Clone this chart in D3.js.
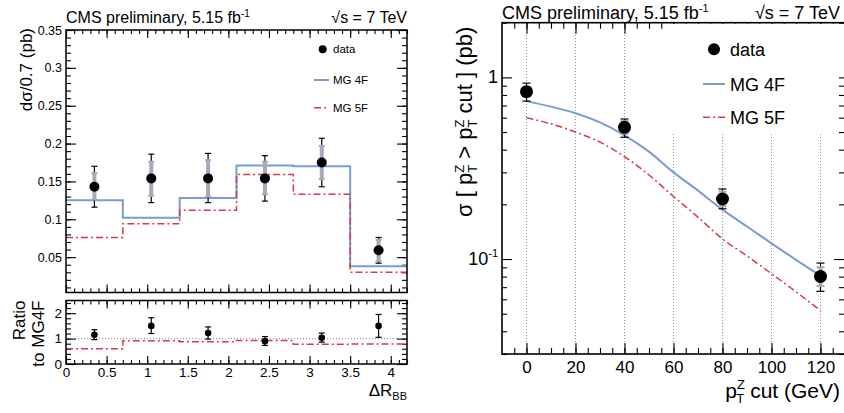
<!DOCTYPE html>
<html>
<head>
<meta charset="utf-8">
<script src="https://cdn.jsdelivr.net/npm/d3@7"></script>
<style>
  body { margin: 0; background: #fff; }
  text { font-family: "Liberation Sans", Arial, Helvetica, sans-serif; fill: #000; }
</style>
</head>
<body>
<svg id="chart" width="844" height="413"></svg>
<script>
// ---- left plot: d sigma / d deltaR(BB) ----
const binEdges = [0, 0.7, 1.4, 2.1, 2.8, 3.5, 4.2];
const mg4f = [0.125, 0.102, 0.128, 0.171, 0.170, 0.038];
const mg5f = [0.076, 0.094, 0.112, 0.159, 0.133, 0.030];
const drCentre = [0.35, 1.05, 1.75, 2.45, 3.15, 3.85];
const drData = [0.143, 0.154, 0.154, 0.154, 0.175, 0.059];
const drTotLo = [0.116, 0.122, 0.122, 0.124, 0.143, 0.042];
const drTotHi = [0.170, 0.186, 0.187, 0.184, 0.207, 0.076];
const drStatLo = [0.126, 0.131, 0.130, 0.133, 0.153, 0.045];
const drStatHi = [0.161, 0.176, 0.178, 0.176, 0.197, 0.073];
// ratio to MG4F
const ratioData = [1.15, 1.50, 1.22, 0.90, 1.03, 1.50];
const ratioLo = [0.96, 1.20, 0.98, 0.73, 0.86, 1.05];
const ratioHi = [1.35, 1.82, 1.46, 1.08, 1.22, 1.95];
const ratio5f = [0.60, 0.92, 0.88, 0.93, 0.78, 0.79];
const drTicks = [0, 0.5, 1, 1.5, 2, 2.5, 3, 3.5, 4];
const dsTicks = [0.05, 0.1, 0.15, 0.2, 0.25, 0.3, 0.35];
const ratioTicks = [0, 1, 2];

// ---- right plot: sigma(pT^Z > cut) ----
const ptCut = [0, 40, 80, 120];
const sigData = [0.834, 0.531, 0.214, 0.0802];
const sigTotLo = [0.740, 0.468, 0.189, 0.0664];
const sigTotHi = [0.930, 0.590, 0.243, 0.0950];
const sigStatLo = [0.790, 0.490, 0.195, 0.0710];
const sigStatHi = [0.885, 0.575, 0.235, 0.0900];
const ptCurve = [0, 10, 20, 30, 40, 50, 60, 70, 80, 90, 100, 110, 120];
const sig4f = [0.74, 0.69, 0.635, 0.565, 0.48, 0.39, 0.30, 0.238, 0.187, 0.151, 0.122, 0.099, 0.081];
const sig5f = [0.60, 0.555, 0.50, 0.44, 0.366, 0.29, 0.221, 0.17, 0.129, 0.104, 0.083, 0.066, 0.052];
const ptTicks = [0, 20, 40, 60, 80, 100, 120];

const blue = "#7b9bd3";
const red = "#cf3d4c";
const statGrey = "#a9a7bd";
const dash5f = "7,3,2,3";

const svg = d3.select("#chart");

// helper: draw ticks of an axis and style them
function drawAxis(g, axis) {
  g.call(axis);
  g.select(".domain").remove();
  g.attr("font-family", null).attr("font-size", null);
  g.selectAll("line").attr("stroke", "#000").attr("stroke-width", 1.1);
  return g;
}

// ================= LEFT TOP PANEL =================
const L = { x0: 66, x1: 407, top: 30, bot: 292.5, rTop: 300.5, rBot: 364 };
const xDr = d3.scaleLinear().domain([0, 4.2]).range([L.x0, L.x1]);
const yDs = d3.scaleLinear().domain([0.0033, 0.35]).range([L.bot, L.top]);
const yRatio = d3.scaleLinear().domain([0, 2.5]).range([L.rBot, L.rTop]);
const minorDr = d3.range(0, 4.2001, 0.1);

// ticks top panel
drawAxis(svg.append("g").attr("transform", `translate(0,${L.bot})`),
  d3.axisBottom(xDr).tickValues(drTicks).tickSize(-8).tickFormat(""));
drawAxis(svg.append("g").attr("transform", `translate(0,${L.bot})`),
  d3.axisBottom(xDr).tickValues(minorDr).tickSize(-4).tickFormat(""));
drawAxis(svg.append("g").attr("transform", `translate(0,${L.top})`),
  d3.axisTop(xDr).tickValues(drTicks).tickSize(-8).tickFormat(""));
drawAxis(svg.append("g").attr("transform", `translate(0,${L.top})`),
  d3.axisTop(xDr).tickValues(minorDr).tickSize(-4).tickFormat(""));
const yLeft = drawAxis(svg.append("g").attr("transform", `translate(${L.x0},0)`),
  d3.axisLeft(yDs).tickValues(dsTicks).tickSize(-10).tickPadding(4).tickFormat(d3.format("~g")));
yLeft.selectAll("text").attr("font-size", 12.5);
drawAxis(svg.append("g").attr("transform", `translate(${L.x0},0)`),
  d3.axisLeft(yDs).tickValues(d3.range(0.01, 0.3501, 0.01)).tickSize(-5).tickFormat(""));
drawAxis(svg.append("g").attr("transform", `translate(${L.x1},0)`),
  d3.axisRight(yDs).tickValues(dsTicks).tickSize(-10).tickFormat(""));
drawAxis(svg.append("g").attr("transform", `translate(${L.x1},0)`),
  d3.axisRight(yDs).tickValues(d3.range(0.01, 0.3501, 0.01)).tickSize(-5).tickFormat(""));

// histograms
const stepPts = vals => binEdges.map((e, i) => [e, vals[Math.min(i, vals.length - 1)]]);
const stepLine = d3.line().x(d => xDr(d[0])).y(d => yDs(d[1])).curve(d3.curveStepAfter);
svg.append("path").attr("d", stepLine(stepPts(mg4f)))
  .attr("fill", "none").attr("stroke", blue).attr("stroke-width", 2);
svg.append("path").attr("d", stepLine(stepPts(mg5f)))
  .attr("fill", "none").attr("stroke", red).attr("stroke-width", 1.5).attr("stroke-dasharray", dash5f);

// data points
drCentre.forEach((c, i) => {
  const x = xDr(c);
  svg.append("line").attr("x1", x).attr("x2", x).attr("y1", yDs(drTotLo[i])).attr("y2", yDs(drTotHi[i]))
    .attr("stroke", "#000").attr("stroke-width", 1.2);
  [drTotLo[i], drTotHi[i]].forEach(v => svg.append("line").attr("x1", x - 3).attr("x2", x + 3)
    .attr("y1", yDs(v)).attr("y2", yDs(v)).attr("stroke", "#000").attr("stroke-width", 1.2));
  svg.append("line").attr("x1", x).attr("x2", x).attr("y1", yDs(drStatLo[i])).attr("y2", yDs(drStatHi[i]))
    .attr("stroke", statGrey).attr("stroke-width", 4);
  [drStatLo[i], drStatHi[i]].forEach(v => svg.append("line").attr("x1", x - 3).attr("x2", x + 3)
    .attr("y1", yDs(v)).attr("y2", yDs(v)).attr("stroke", statGrey).attr("stroke-width", 2));
  svg.append("circle").attr("cx", x).attr("cy", yDs(drData[i])).attr("r", 5).attr("fill", "#000");
});

svg.append("rect").attr("x", L.x0).attr("y", L.top).attr("width", L.x1 - L.x0).attr("height", L.bot - L.top)
  .attr("fill", "none").attr("stroke", "#000").attr("stroke-width", 1.5);

// legend left
svg.append("circle").attr("cx", 322.7).attr("cy", 49.3).attr("r", 4).attr("fill", "#000");
svg.append("text").attr("x", 333).attr("y", 53).attr("font-size", 11.5).text("data");
svg.append("line").attr("x1", 314).attr("x2", 329).attr("y1", 80).attr("y2", 80).attr("stroke", blue).attr("stroke-width", 2);
svg.append("text").attr("x", 333).attr("y", 84).attr("font-size", 11.5).text("MG 4F");
svg.append("line").attr("x1", 314).attr("x2", 329).attr("y1", 107.7).attr("y2", 107.7).attr("stroke", red)
  .attr("stroke-width", 1.5).attr("stroke-dasharray", dash5f);
svg.append("text").attr("x", 333).attr("y", 112).attr("font-size", 11.5).text("MG 5F");

// titles left
const tl = svg.append("text").attr("x", L.x0).attr("y", 23).attr("font-size", 16);
tl.append("tspan").text("CMS preliminary, 5.15 fb");
tl.append("tspan").attr("dy", -6).attr("font-size", 10).text("-1");
svg.append("text").attr("x", L.x1).attr("y", 23).attr("font-size", 16).attr("text-anchor", "end")
  .text("\u221As = 7 TeV");

svg.append("text").attr("transform", `translate(32,${L.top - 2}) rotate(-90)`)
  .attr("text-anchor", "end").attr("font-size", 17).text("d\u03c3/0.7 (pb)");

// ================= LEFT RATIO PANEL =================
drawAxis(svg.append("g").attr("transform", `translate(0,${L.rBot})`),
  d3.axisBottom(xDr).tickValues(drTicks).tickSize(-8).tickPadding(3).tickFormat(d3.format("~g")))
  .selectAll("text").attr("font-size", 13.5);
drawAxis(svg.append("g").attr("transform", `translate(0,${L.rBot})`),
  d3.axisBottom(xDr).tickValues(minorDr).tickSize(-4).tickFormat(""));
drawAxis(svg.append("g").attr("transform", `translate(0,${L.rTop})`),
  d3.axisTop(xDr).tickValues(drTicks).tickSize(-8).tickFormat(""));
drawAxis(svg.append("g").attr("transform", `translate(0,${L.rTop})`),
  d3.axisTop(xDr).tickValues(minorDr).tickSize(-4).tickFormat(""));
drawAxis(svg.append("g").attr("transform", `translate(${L.x0},0)`),
  d3.axisLeft(yRatio).tickValues(ratioTicks).tickSize(-10).tickPadding(4).tickFormat(d3.format("d")))
  .selectAll("text").attr("font-size", 13.5);
drawAxis(svg.append("g").attr("transform", `translate(${L.x0},0)`),
  d3.axisLeft(yRatio).tickValues(d3.range(0.2, 2.5, 0.2)).tickSize(-5).tickFormat(""));
drawAxis(svg.append("g").attr("transform", `translate(${L.x1},0)`),
  d3.axisRight(yRatio).tickValues(ratioTicks).tickSize(-10).tickFormat(""));
drawAxis(svg.append("g").attr("transform", `translate(${L.x1},0)`),
  d3.axisRight(yRatio).tickValues(d3.range(0.2, 2.5, 0.2)).tickSize(-5).tickFormat(""));

svg.append("line").attr("x1", L.x0).attr("x2", L.x1).attr("y1", yRatio(1)).attr("y2", yRatio(1))
  .attr("stroke", "#888").attr("stroke-width", 1).attr("stroke-dasharray", "1,2");
svg.append("path").attr("d", d3.line().x(d => xDr(d[0])).y(d => yRatio(d[1])).curve(d3.curveStepAfter)(
    binEdges.map((e, i) => [e, ratio5f[Math.min(i, ratio5f.length - 1)]])))
  .attr("fill", "none").attr("stroke", red).attr("stroke-width", 1.5).attr("stroke-dasharray", dash5f);

drCentre.forEach((c, i) => {
  const x = xDr(c);
  svg.append("line").attr("x1", x).attr("x2", x).attr("y1", yRatio(ratioLo[i])).attr("y2", yRatio(ratioHi[i]))
    .attr("stroke", "#000").attr("stroke-width", 1.2);
  [ratioLo[i], ratioHi[i]].forEach(v => svg.append("line").attr("x1", x - 3).attr("x2", x + 3)
    .attr("y1", yRatio(v)).attr("y2", yRatio(v)).attr("stroke", "#000").attr("stroke-width", 1.2));
  svg.append("circle").attr("cx", x).attr("cy", yRatio(ratioData[i])).attr("r", 3.3).attr("fill", "#000");
});

svg.append("rect").attr("x", L.x0).attr("y", L.rTop).attr("width", L.x1 - L.x0).attr("height", L.rBot - L.rTop)
  .attr("fill", "none").attr("stroke", "#000").attr("stroke-width", 1.5);

svg.append("text").attr("transform", `translate(25,${L.rTop}) rotate(-90)`)
  .attr("text-anchor", "end").attr("font-size", 17).text("Ratio");
svg.append("text").attr("transform", `translate(44,${L.rTop}) rotate(-90)`)
  .attr("text-anchor", "end").attr("font-size", 17).text("to MG4F");

const xl = svg.append("text").attr("x", L.x1).attr("y", 396).attr("text-anchor", "end").attr("font-size", 17);
xl.append("tspan").text("\u0394R");
xl.append("tspan").attr("dy", 4).attr("font-size", 11).text("BB");

// ================= RIGHT PANEL =================
const R = { x0: 502, x1: 845, top: 22.7, bot: 354 };
const xPt = d3.scaleLinear().domain([-10, 130]).range([R.x0, R.x1]);
const ySig = d3.scaleLog().domain([0.03, 2]).range([R.bot, R.top]);
const minorPt = d3.range(-5, 130, 5);
const logMinor = [0.03, 0.04, 0.05, 0.06, 0.07, 0.08, 0.09, 0.2, 0.3, 0.4, 0.5, 0.6, 0.7, 0.8, 0.9, 2];

// grid lines
ptTicks.forEach(p => svg.append("line").attr("x1", xPt(p)).attr("x2", xPt(p)).attr("y1", R.bot).attr("y2", R.top)
  .attr("stroke", "#777").attr("stroke-width", 0.8).attr("stroke-dasharray", "1,2"));

drawAxis(svg.append("g").attr("transform", `translate(0,${R.bot})`),
  d3.axisBottom(xPt).tickValues(ptTicks).tickSize(-11).tickPadding(7).tickFormat(d3.format("d")))
  .selectAll("text").attr("font-size", 17);
drawAxis(svg.append("g").attr("transform", `translate(0,${R.bot})`),
  d3.axisBottom(xPt).tickValues(minorPt).tickSize(-6).tickFormat(""));
drawAxis(svg.append("g").attr("transform", `translate(0,${R.top})`),
  d3.axisTop(xPt).tickValues(ptTicks).tickSize(-11).tickFormat(""));
drawAxis(svg.append("g").attr("transform", `translate(0,${R.top})`),
  d3.axisTop(xPt).tickValues(minorPt).tickSize(-6).tickFormat(""));
drawAxis(svg.append("g").attr("transform", `translate(${R.x0},0)`),
  d3.axisLeft(ySig).tickValues([0.1, 1]).tickSize(-10).tickFormat(""));
drawAxis(svg.append("g").attr("transform", `translate(${R.x0},0)`),
  d3.axisLeft(ySig).tickValues(logMinor).tickSize(-5).tickFormat(""));
drawAxis(svg.append("g").attr("transform", `translate(${R.x1 - 1},0)`),
  d3.axisRight(ySig).tickValues([0.1, 1]).tickSize(-10).tickFormat(""));
drawAxis(svg.append("g").attr("transform", `translate(${R.x1 - 1},0)`),
  d3.axisRight(ySig).tickValues(logMinor).tickSize(-5).tickFormat(""));

// y tick labels (powers of ten)
svg.append("text").attr("x", R.x0 - 4).attr("y", ySig(1) + 6).attr("text-anchor", "end").attr("font-size", 18).text("1");
const tm1 = svg.append("text").attr("x", R.x0 - 4).attr("y", ySig(0.1) + 6).attr("text-anchor", "end").attr("font-size", 18);
tm1.append("tspan").text("10");
tm1.append("tspan").attr("dy", -8).attr("font-size", 11).text("-1");

// legend (white box hides grid lines)
svg.append("rect").attr("x", 667).attr("y", R.top + 1).attr("width", 172).attr("height", 109).attr("fill", "#fff");
svg.append("circle").attr("cx", 714).attr("cy", 49.3).attr("r", 6).attr("fill", "#000");
svg.append("text").attr("x", 730).attr("y", 56).attr("font-size", 18).text("data");
svg.append("line").attr("x1", 703).attr("x2", 725).attr("y1", 84).attr("y2", 84).attr("stroke", blue).attr("stroke-width", 2);
svg.append("text").attr("x", 730).attr("y", 90.5).attr("font-size", 18).text("MG 4F");
svg.append("line").attr("x1", 703).attr("x2", 725).attr("y1", 117.3).attr("y2", 117.3).attr("stroke", red)
  .attr("stroke-width", 1.5).attr("stroke-dasharray", dash5f);
svg.append("text").attr("x", 730).attr("y", 124).attr("font-size", 18).text("MG 5F");

// curves
const curve = vals => d3.line().x((d, i) => xPt(ptCurve[i])).y(d => ySig(d)).curve(d3.curveMonotoneX)(vals);
svg.append("path").attr("d", curve(sig4f)).attr("fill", "none").attr("stroke", blue).attr("stroke-width", 2);
svg.append("path").attr("d", curve(sig5f)).attr("fill", "none").attr("stroke", red)
  .attr("stroke-width", 1.5).attr("stroke-dasharray", dash5f);

ptCut.forEach((p, i) => {
  const x = xPt(p);
  svg.append("line").attr("x1", x).attr("x2", x).attr("y1", ySig(sigTotLo[i])).attr("y2", ySig(sigTotHi[i]))
    .attr("stroke", "#000").attr("stroke-width", 1.2);
  [sigTotLo[i], sigTotHi[i]].forEach(v => svg.append("line").attr("x1", x - 4).attr("x2", x + 4)
    .attr("y1", ySig(v)).attr("y2", ySig(v)).attr("stroke", "#000").attr("stroke-width", 1.2));
  svg.append("line").attr("x1", x).attr("x2", x).attr("y1", ySig(sigStatLo[i])).attr("y2", ySig(sigStatHi[i]))
    .attr("stroke", statGrey).attr("stroke-width", 4);
  [sigStatLo[i], sigStatHi[i]].forEach(v => svg.append("line").attr("x1", x - 4).attr("x2", x + 4)
    .attr("y1", ySig(v)).attr("y2", ySig(v)).attr("stroke", statGrey).attr("stroke-width", 2));
  svg.append("circle").attr("cx", x).attr("cy", ySig(sigData[i])).attr("r", 6.5).attr("fill", "#000");
});

svg.append("rect").attr("x", R.x0).attr("y", R.top).attr("width", R.x1 - R.x0).attr("height", R.bot - R.top)
  .attr("fill", "none").attr("stroke", "#000").attr("stroke-width", 1.6);

// titles right
const tr = svg.append("text").attr("x", R.x0).attr("y", 18.5).attr("font-size", 18);
tr.append("tspan").text("CMS preliminary, 5.15 fb");
tr.append("tspan").attr("dy", -7).attr("font-size", 11).text("-1");
svg.append("text").attr("x", 840).attr("y", 18.5).attr("text-anchor", "end").attr("font-size", 18).text("\u221As = 7 TeV");

// y title right
const yt = svg.append("text").attr("transform", `translate(472,${R.top + 4}) rotate(-90)`)
  .attr("text-anchor", "end").attr("font-size", 22);
yt.append("tspan").text("\u03c3 [ p");
yt.append("tspan").attr("dy", -8).attr("font-size", 13).text("Z");
yt.append("tspan").attr("dx", -8).attr("dy", 13).attr("font-size", 13).text("T");
yt.append("tspan").attr("dy", -5).text(" > p");
yt.append("tspan").attr("dy", -8).attr("font-size", 13).text("Z");
yt.append("tspan").attr("dx", -8).attr("dy", 13).attr("font-size", 13).text("T");
yt.append("tspan").attr("dy", -5).text(" cut ] (pb)");

// x title right
const xt = svg.append("text").attr("x", 840).attr("y", 398).attr("text-anchor", "end").attr("font-size", 21);
xt.append("tspan").text("p");
xt.append("tspan").attr("dy", -9).attr("font-size", 13).text("Z");
xt.append("tspan").attr("dx", -8.5).attr("dy", 14).attr("font-size", 13).text("T");
xt.append("tspan").attr("dy", -5).text(" cut (GeV)");
</script>
</body>
</html>
